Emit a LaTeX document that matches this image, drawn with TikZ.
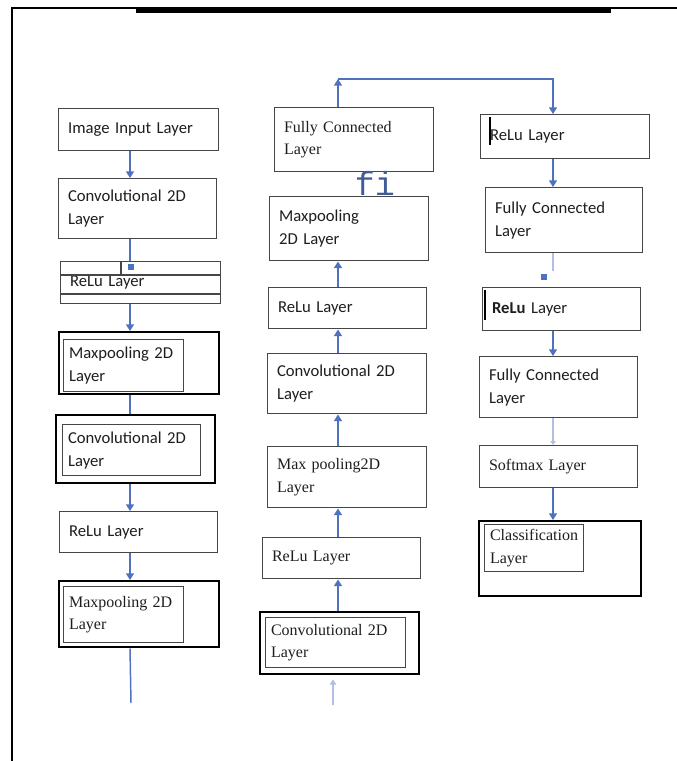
\documentclass[tikz,border=0pt]{standalone}
\usepackage{fontspec}
\setmainfont{Carlito}
\setmonofont{Liberation Mono}
\newfontfamily\serifface{Liberation Serif}
\usepackage{tikz}
\usetikzlibrary{arrows.meta, calc}
\definecolor{linkblue}{RGB}{79,114,190}
\definecolor{edgegray}{RGB}{70,70,70}
\definecolor{textdark}{RGB}{30,30,30}
\newcommand\layerfont{\fontsize{12.5}{17}\selectfont}
\newcommand\seriffont{\serifface\fontsize{12}{17}\selectfont}

\begin{document}
\begin{tikzpicture}[
        x=0.75pt, y=-0.75pt,
        box/.style={rectangle, draw=edgegray, line width=1.1pt, fill=white, anchor=north west,
                    align=left, inner xsep=7pt, inner ysep=2pt, font=\layerfont, text=textdark},
        dims/.style 2 args={minimum width=#1*0.75pt, minimum height=#2*0.75pt, text width=#1*0.75pt-14pt},
        idims/.style 2 args={minimum width=#1*0.75pt, minimum height=#2*0.75pt, inner xsep=4pt, text width=#1*0.75pt-8pt},
        outerbox/.style={box, draw=black, line width=1.8pt},
        serif/.style={font=\seriffont},
        arrow/.style={draw=linkblue, line width=1.1pt, -{Triangle[width=6pt, length=5pt]}},
        link/.style={draw=linkblue, line width=1.1pt},
        faint/.style={draw=linkblue!45, line width=0.8pt},
        marker/.style={rectangle, fill=linkblue, minimum size=5pt, inner sep=0pt}
    ]
    \useasboundingbox (0,0) rectangle (677,761);
    % page frame
    \draw[line width=0.8pt] (12,761) -- (12,8) -- (677,8);
    \fill (136,8) rectangle (611,13);

    \coordinate (axisL) at (130,0);
    \coordinate (axisM) at (338,0);
    \coordinate (axisR) at (553,0);

    % left column
    \node [box, dims={160}{42}] (input) at (58,108) {Image Input Layer};
    \node [box, dims={158}{60}] (conv1) at (58,178) {Convolutional 2D\\Layer};
    \node [box, dims={160}{42}] (relu1) at (60,261) {ReLu Layer};
    \draw [edgegray, line width=1.1pt] (60,275) -- (220,275) (60,294) -- (220,294) (121,261) -- (121,275);
    \node [outerbox, dims={160}{62}] (pool1) at (58,331) {};
    \node [box, idims={120}{52}] (pool1t) at (63,339) {Maxpooling 2D\\Layer};
    \node [outerbox, dims={159}{68}] (conv2) at (55,414) {};
    \node [box, idims={138}{51}] (conv2t) at (62,424) {Convolutional 2D\\Layer};
    \node [box, dims={158}{41}] (relu2) at (59,511) {ReLu Layer};
    \node [outerbox, dims={160}{66}] (pool2) at (58,580) {};
    \node [box, serif, idims={120}{56}] (pool2t) at (63,586) {Maxpooling 2D\\Layer};
    \coordinate (tailL) at (131,703);

    % middle column
    \node [box, serif, dims={159}{64}] (fc1) at (274,107) {Fully Connected\\Layer};
    \node [box, dims={159}{64}] (pool3) at (269,196) {Maxpooling\\2D Layer};
    \node [font=\ttfamily\fontsize{25}{25}\selectfont, text=linkblue!80!black, inner sep=0pt] (fi) at (375,183) {fi};
    \node [box, dims={158}{41}] (relu3) at (268,287) {ReLu Layer};
    \node [box, dims={159}{60}] (conv3) at (267,353) {Convolutional 2D\\Layer};
    \node [box, serif, dims={159}{61}] (pool4) at (267,446) {Max pooling2D\\Layer};
    \node [box, serif, dims={158}{41}] (relu4) at (262,537) {ReLu Layer};
    \node [outerbox, dims={159}{62}] (conv4) at (259,611) {};
    \node [box, serif, idims={140}{50}] (conv4t) at (265,617) {Convolutional 2D\\Layer};
    \coordinate (tailM) at (333,705);
    \coordinate (bend) at (338,79);

    % right column
    \node [box, dims={169}{44}] (r1) at (480,114) {ReLu Layer};
    \draw [line width=2pt] (490,117) -- (490,145);
    \node [box, dims={157}{65}] (r2) at (485,187) {Fully Connected\\Layer};
    \node [box, dims={158}{43}] (r3) at (482,287) {\textbf{ReLu} Layer};
    \draw [line width=2pt] (485,290) -- (485,320);
    \node [box, dims={158}{61}] (r4) at (479,356) {Fully Connected\\Layer};
    \node [box, serif, dims={158}{42}] (r5) at (479,445) {Softmax Layer};
    \node [outerbox, dims={162}{75}] (r6) at (478,520) {};
    \node [box, serif, idims={99}{47}] (r6t) at (484,524) {Classification\\Layer};

    % connectors, left
    \path [arrow] (input.south -| axisL) -- (conv1.north -| axisL);
    \path [link] (conv1.south -| axisL) -- (relu1.north -| axisL);
    \node [marker] (mark1) at (131,267) {};
    \path [arrow] (relu1.south -| axisL) -- (pool1.north -| axisL);
    \path [link] (pool1.south -| axisL) -- (conv2.north -| axisL);
    \path [arrow] (conv2.south -| axisL) -- (relu2.north -| axisL);
    \path [arrow] (relu2.south -| axisL) -- (pool2.north -| axisL);
    \path [link] (pool2.south -| axisL) -- (tailL);

    % connectors, middle (upwards)
    \path [faint, -{Triangle[width=5pt, length=4pt]}, shorten >=3pt] (tailM) -- (conv4.south -| tailM);
    \path [arrow] (conv4.north -| axisM) -- (relu4.south -| axisM);
    \path [arrow] (relu4.north -| axisM) -- (pool4.south -| axisM);
    \path [arrow] (pool4.north -| axisM) -- (conv3.south -| axisM);
    \path [arrow] (conv3.north -| axisM) -- (relu3.south -| axisM);
    \path [arrow] (relu3.north -| axisM) -- (pool3.south -| axisM);
    \path [arrow] (fc1.north -| axisM) -- (bend);
    \path [arrow] (bend) -| (r1.north -| axisR);

    % connectors, right
    \path [arrow] (r1.south -| axisR) -- (r2.north -| axisR);
    \path [faint, shorten >=12pt] (r2.south -| axisR) -- (r3.north -| axisR);
    \node [marker] (mark2) at (544,277) {};
    \path [arrow] (r3.south -| axisR) -- (r4.north -| axisR);
    \path [faint, -{Triangle[width=4pt, length=3pt]}] (r4.south -| axisR) -- (r5.north -| axisR);
    \path [arrow] (r5.south -| axisR) -- (r6.north -| axisR);
\end{tikzpicture}
\end{document}
